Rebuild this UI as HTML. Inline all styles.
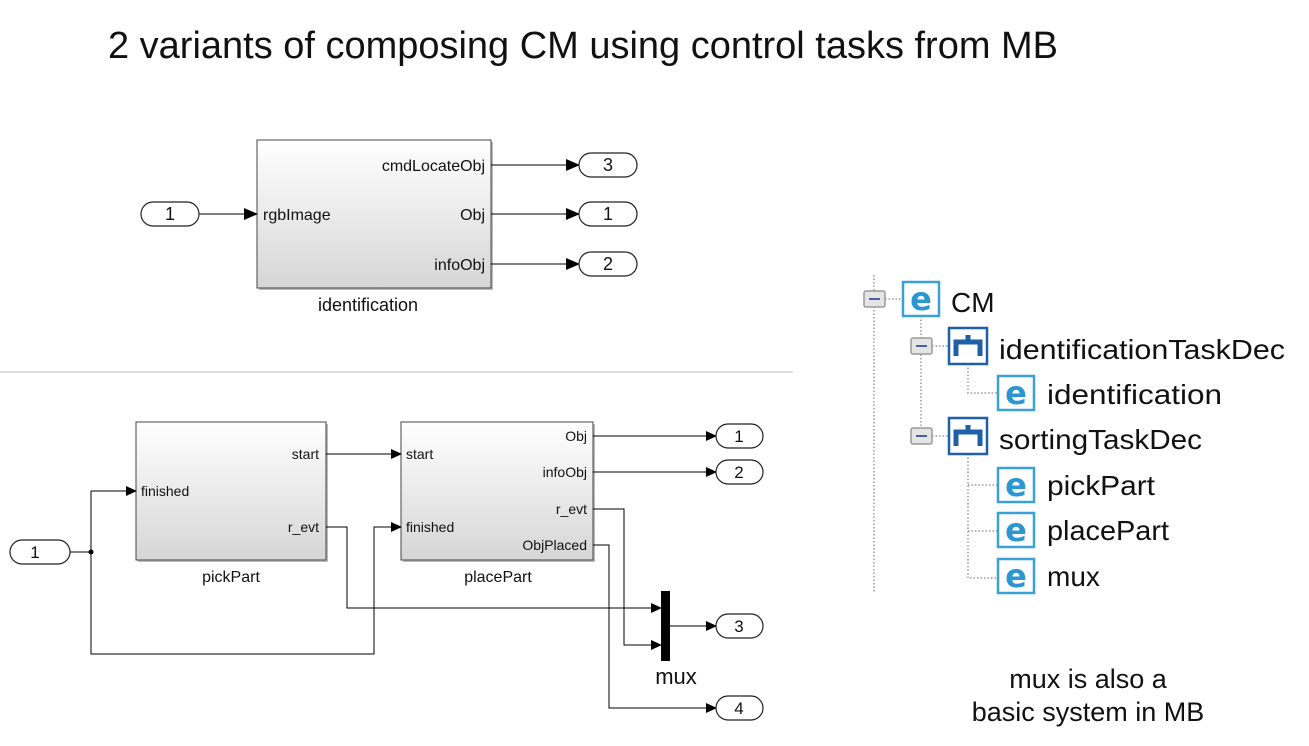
<!DOCTYPE html>
<html><head><meta charset="utf-8"><style>
html,body{margin:0;padding:0;background:#fff;width:1309px;height:746px;overflow:hidden}
svg{display:block}
.s{font-family:"Liberation Sans",Arial,sans-serif;fill:#111}
</style></head><body>
<svg width="1309" height="746" viewBox="0 0 1309 746" xmlns="http://www.w3.org/2000/svg">
<defs>
<linearGradient id="g" x1="0" y1="0" x2="0" y2="1"><stop offset="0" stop-color="#ffffff"/><stop offset="1" stop-color="#d6d6d6"/></linearGradient>
<marker id="a" markerWidth="14" markerHeight="12" refX="13" refY="6" orient="auto" markerUnits="userSpaceOnUse"><path d="M0,0 L14,6 L0,12 z" fill="#000"/></marker>
<marker id="b" markerWidth="11" markerHeight="10" refX="10" refY="5" orient="auto" markerUnits="userSpaceOnUse"><path d="M0,0 L11,5 L0,10 z" fill="#000"/></marker>
<g id="e"><rect x="0" y="0" width="36" height="34" fill="#fff" stroke="#3aa0d8" stroke-width="2.5"/><text x="18" y="28" text-anchor="middle" font-family="DejaVu Sans,sans-serif" font-weight="bold" font-size="32" fill="#2a96d2">e</text></g>
<g id="t"><rect x="0" y="0" width="38" height="36" fill="#fff" stroke="#1f5fa8" stroke-width="2.5"/><path d="M7,28 V14 H31 V28 M19,14 V7" stroke="#1f5fa8" stroke-width="5" fill="none"/></g>
<g id="m"><rect x="0" y="0" width="21" height="16" rx="2" fill="#e4e4e4" stroke="#9a9a9a" stroke-width="1.5"/><line x1="5" y1="8" x2="16" y2="8" stroke="#4a5fa8" stroke-width="2"/></g>
</defs>

<text class="s" x="108" y="58" font-size="38" textLength="950" lengthAdjust="spacingAndGlyphs">2 variants of composing CM using control tasks from MB</text>

<!-- top diagram -->
<rect x="259" y="142" width="234" height="148" fill="#bbb"/>
<rect x="257" y="140" width="234" height="148" fill="url(#g)" stroke="#444" stroke-width="1"/>
<g class="s" font-size="16">
<text x="485" y="171" text-anchor="end">cmdLocateObj</text>
<text x="485" y="220" text-anchor="end">Obj</text>
<text x="485" y="270" text-anchor="end">infoObj</text>
<text x="263" y="220">rgbImage</text>
<text x="368" y="311" text-anchor="middle" font-size="18">identification</text>
</g>
<g stroke="#000" stroke-width="1" fill="none">
<line x1="199" y1="214" x2="257" y2="214" marker-end="url(#a)"/>
<line x1="491" y1="165" x2="579" y2="165" marker-end="url(#a)"/>
<line x1="491" y1="214" x2="579" y2="214" marker-end="url(#a)"/>
<line x1="491" y1="264" x2="579" y2="264" marker-end="url(#a)"/>
</g>
<g fill="#fff" stroke="#222" stroke-width="1.2">
<rect x="141" y="202" width="58" height="24" rx="12"/>
<rect x="579" y="153" width="58" height="24" rx="12"/>
<rect x="579" y="202" width="58" height="24" rx="12"/>
<rect x="579" y="252" width="58" height="24" rx="12"/>
</g>
<g class="s" font-size="18" text-anchor="middle">
<text x="170" y="220">1</text><text x="608" y="171">3</text><text x="608" y="220">1</text><text x="608" y="270">2</text>
</g>

<line x1="0" y1="372" x2="793" y2="372" stroke="#bbb" stroke-width="1"/>

<!-- bottom diagram -->
<rect x="138" y="424" width="190" height="138" fill="#bbb"/>
<rect x="136" y="422" width="190" height="138" fill="url(#g)" stroke="#444"/>
<rect x="403" y="424" width="192" height="138" fill="#bbb"/>
<rect x="401" y="422" width="192" height="138" fill="url(#g)" stroke="#444"/>
<g class="s" font-size="14">
<text x="319" y="459" text-anchor="end">start</text>
<text x="141" y="496">finished</text>
<text x="319" y="532" text-anchor="end">r_evt</text>
<text x="406" y="459">start</text>
<text x="406" y="532">finished</text>
<text x="587" y="441" text-anchor="end">Obj</text>
<text x="587" y="477" text-anchor="end">infoObj</text>
<text x="587" y="514" text-anchor="end">r_evt</text>
<text x="587" y="550" text-anchor="end">ObjPlaced</text>
<text x="231" y="582" text-anchor="middle" font-size="16">pickPart</text>
<text x="498" y="582" text-anchor="middle" font-size="16">placePart</text>
<text x="676" y="684" text-anchor="middle" font-size="22">mux</text>
</g>
<g stroke="#000" stroke-width="1" fill="none">
<line x1="70" y1="552" x2="91" y2="552"/>
<polyline points="91,552 91,491 136,491" marker-end="url(#b)"/>
<polyline points="91,552 91,654 374,654 374,527 401,527" marker-end="url(#b)"/>
<line x1="326" y1="454" x2="401" y2="454" marker-end="url(#b)"/>
<polyline points="326,527 347,527 347,608 661,608" marker-end="url(#b)"/>
<polyline points="593,509 624,509 624,645 661,645" marker-end="url(#b)"/>
<polyline points="593,545 609,545 609,708 716,708" marker-end="url(#b)"/>
<line x1="593" y1="436" x2="716" y2="436" marker-end="url(#b)"/>
<line x1="593" y1="472" x2="716" y2="472" marker-end="url(#b)"/>
<line x1="670" y1="626" x2="716" y2="626" marker-end="url(#b)"/>
</g>
<circle cx="91" cy="552" r="2.5" fill="#000"/>
<rect x="661" y="591" width="9" height="70" fill="#000"/>
<g fill="#fff" stroke="#222" stroke-width="1.2">
<rect x="10" y="540" width="60" height="24" rx="12"/>
<rect x="716" y="424" width="47" height="24" rx="12"/>
<rect x="716" y="460" width="47" height="24" rx="12"/>
<rect x="716" y="614" width="47" height="24" rx="12"/>
<rect x="716" y="696" width="47" height="24" rx="12"/>
</g>
<g class="s" font-size="17" text-anchor="middle">
<text x="35" y="558">1</text><text x="739" y="442">1</text><text x="739" y="478">2</text><text x="739" y="632">3</text><text x="739" y="714">4</text>
</g>

<!-- tree -->
<g stroke="#999" stroke-width="1.5" stroke-dasharray="1.5,2" fill="none">
<line x1="874" y1="275" x2="874" y2="592"/>
<line x1="885" y1="299" x2="902" y2="299"/>
<line x1="921" y1="316" x2="921" y2="430"/>
<line x1="932" y1="346" x2="948" y2="346"/>
<line x1="932" y1="436" x2="948" y2="436"/>
<polyline points="968,364 968,393 997,393"/>
<polyline points="968,454 968,578 997,578"/>
<line x1="968" y1="485" x2="997" y2="485"/>
<line x1="968" y1="531" x2="997" y2="531"/>
</g>
<use href="#m" x="864" y="291"/>
<use href="#m" x="911" y="338"/>
<use href="#m" x="911" y="428"/>
<use href="#e" x="903" y="282"/>
<use href="#t" x="949" y="328"/>
<use href="#t" x="949" y="418"/>
<use href="#e" x="998" y="376"/>
<use href="#e" x="998" y="468"/>
<use href="#e" x="998" y="513"/>
<use href="#e" x="998" y="559"/>
<g class="s" font-size="28" fill="#1a1a1a">
<text x="951" y="312">CM</text>
<text x="999" y="359" textLength="286" lengthAdjust="spacingAndGlyphs">identificationTaskDec</text>
<text x="1047" y="404" textLength="175" lengthAdjust="spacingAndGlyphs">identification</text>
<text x="999" y="449" textLength="203" lengthAdjust="spacingAndGlyphs">sortingTaskDec</text>
<text x="1047" y="495" textLength="108" lengthAdjust="spacingAndGlyphs">pickPart</text>
<text x="1047" y="540" textLength="122" lengthAdjust="spacingAndGlyphs">placePart</text>
<text x="1047" y="586">mux</text>
</g>
<g class="s" font-size="27" text-anchor="middle">
<text x="1088" y="688">mux is also a</text>
<text x="1088" y="721">basic system in MB</text>
</g>
</svg>
</body></html>
